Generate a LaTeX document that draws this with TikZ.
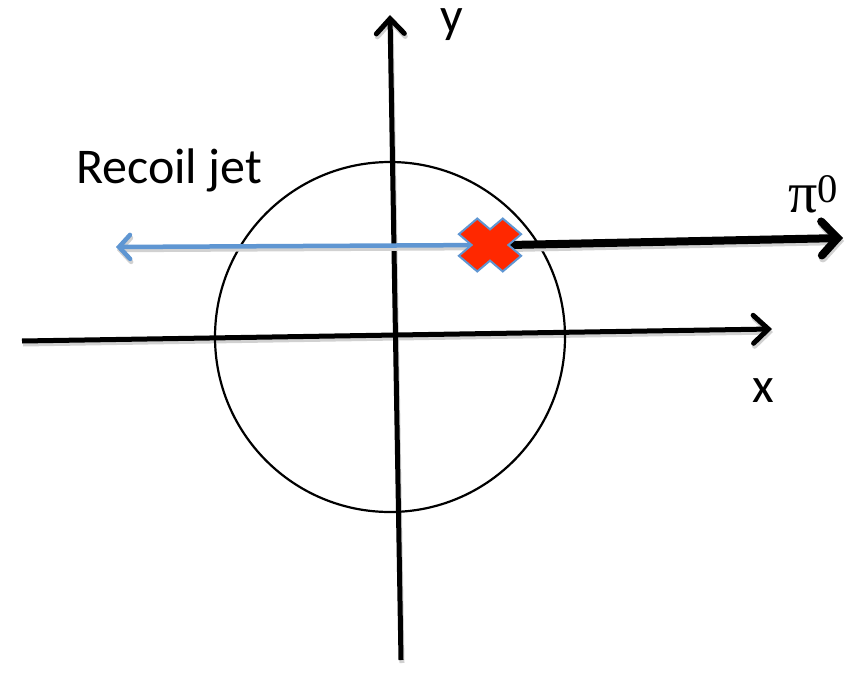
\documentclass[tikz,border=0pt]{standalone}
\usepackage{fontspec}
\setmainfont{Carlito}
\newfontfamily\pifont{Liberation Serif}
\usetikzlibrary{arrows.meta}
\definecolor{jetblue}{RGB}{95,150,210}
\definecolor{crossred}{RGB}{255,40,0}
\begin{document}
\begin{tikzpicture}[x=1pt,y=-1pt,
    axis/.style={line width=5pt,-{Straight Barb[length=15pt,width=28pt,line width=5pt,line cap=round]}},
    shade/.style={black!18,transform canvas={shift={(1pt,-3pt)}}},
    lbl/.style={font=\fontsize{50}{58}\selectfont,inner sep=0pt,anchor=base west}]
    \useasboundingbox (0,0) rectangle (854,690);

    % axes
    \coordinate (xl) at (22,341);
    \coordinate (xr) at (772,329);
    \coordinate (yb) at (401,660);
    \coordinate (yt) at (390,15);
    \draw[axis,shade] (xl) -- (xr);
    \draw[axis,shade] (yb) -- (yt);
    \draw[axis] (xl) -- (xr);
    \draw[axis] (yb) -- (yt);
    \node[lbl,text height=24pt,text depth=11pt] (ylab) at (440,33) {y};
    \node[lbl] (xlab) at (752,402) {x};

    % circle
    \draw[line width=2.2pt] (390,337) circle (175);

    % jets
    \coordinate (hit) at (490,245);
    \coordinate (jet) at (116,247);
    \coordinate (pi) at (843,238);
    \draw[line width=4.5pt,shade,-{Straight Barb[length=11pt,width=24pt,line width=4.5pt,line cap=round]}] (hit) -- (jet);
    \draw[line width=4.5pt,jetblue,-{Straight Barb[length=11pt,width=24pt,line width=4.5pt,line cap=round]}] (hit) -- (jet);
    \draw[line width=8pt,shade,-{Straight Barb[length=16pt,width=34pt,line width=8pt,line cap=round]}] ([xshift=20pt]hit) -- (pi);
    \draw[line width=8pt,-{Straight Barb[length=16pt,width=34pt,line width=8pt,line cap=round]}] ([xshift=20pt]hit) -- (pi);
    \node[lbl] (jetlab) at (76,183) {Recoil jet};
    \node[inner sep=0pt,anchor=base west] (pilab) at (788,212) {\pifont\fontsize{58}{64}\selectfont π\textsuperscript{0}};

    % cross
    \begin{scope}[shift={(hit)},yscale=0.85,rotate=45]
        \filldraw[fill=crossred,draw=jetblue,line width=2pt]
            (-13,-31) -- (13,-31) -- (13,-13) -- (31,-13) -- (31,13) -- (13,13)
            -- (13,31) -- (-13,31) -- (-13,13) -- (-31,13) -- (-31,-13) -- (-13,-13) -- cycle;
    \end{scope}
\end{tikzpicture}
\end{document}
